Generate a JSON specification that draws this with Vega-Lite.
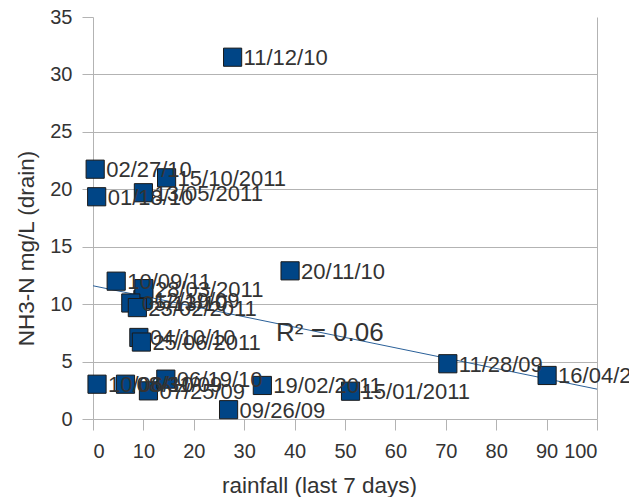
{
  "$schema": "https://vega.github.io/schema/vega-lite/v6.json",
  "width": 504,
  "height": 402,
  "autosize": "none",
  "padding": {"left": 93, "top": 17, "right": 32, "bottom": 78},
  "background": "white",
  "config": {
    "view": {"stroke": null},
    "font": "Liberation Sans"
  },
  "datasets": {
    "points": [
      {"rain": 27.7, "nh3": 31.5, "date": "11/12/10"},
      {"rain": 0.43, "nh3": 21.75, "date": "02/27/10"},
      {"rain": 14.6, "nh3": 21.0, "date": "15/10/2011"},
      {"rain": 0.73, "nh3": 19.35, "date": "01/18/10"},
      {"rain": 10.0, "nh3": 19.7, "date": "13/05/2011"},
      {"rain": 4.6, "nh3": 12.0, "date": "10/09/11"},
      {"rain": 9.9, "nh3": 10.4, "date": "12/19/09"},
      {"rain": 10.1, "nh3": 11.35, "date": "28/03/2011"},
      {"rain": 7.5, "nh3": 10.1, "date": "05/13/10"},
      {"rain": 8.8, "nh3": 9.7, "date": "23/02/2011"},
      {"rain": 39.1, "nh3": 12.9, "date": "20/11/10"},
      {"rain": 9.1, "nh3": 7.1, "date": "04/10/10"},
      {"rain": 9.6, "nh3": 6.7, "date": "25/06/2011"},
      {"rain": 0.8, "nh3": 3.03, "date": "10/06/10"},
      {"rain": 6.45, "nh3": 3.03, "date": "08/31/09"},
      {"rain": 11.0, "nh3": 2.45, "date": "07/25/09"},
      {"rain": 14.45, "nh3": 3.47, "date": "06/19/10"},
      {"rain": 26.9, "nh3": 0.81, "date": "09/26/09"},
      {"rain": 33.6, "nh3": 2.92, "date": "19/02/2011"},
      {"rain": 51.1, "nh3": 2.42, "date": "15/01/2011"},
      {"rain": 70.4, "nh3": 4.81, "date": "11/28/09"},
      {"rain": 90.1, "nh3": 3.79, "date": "16/04/2011"}
    ],
    "trend": [
      {"rain": 0, "nh3": 11.6},
      {"rain": 100, "nh3": 2.6}
    ],
    "r2": [
      {"rain": 47.0, "nh3": 6.8, "label": "R² = 0.06"}
    ]
  },
  "encoding": {
    "x": {
      "field": "rain", "type": "quantitative",
      "scale": {"domain": [0, 100], "nice": false, "zero": false},
      "axis": {
        "title": "rainfall (last 7 days)",
        "values": [0, 10, 20, 30, 40, 50, 60, 70, 80, 90, 100],
        "grid": true,
        "gridColor": "#b3b3b3",
        "gridOpacity": {"condition": {"test": "datum.value == 100", "value": 1}, "value": 0},
        "domainColor": "#b3b3b3",
        "tickColor": "#b3b3b3",
        "tickSize": 11,
        "labelFontSize": 20,
        "labelColor": "#333333",
        "labelPadding": 11,
        "labelFont": "Liberation Sans",
        "titleFont": "Liberation Sans",
        "titleFontSize": 22.5,
        "titleFontWeight": "normal",
        "titleColor": "#333333",
        "titleX": 226,
        "titleY": 73,
        "titleAlign": "center",
        "titleBaseline": "alphabetic"
      }
    },
    "y": {
      "field": "nh3", "type": "quantitative",
      "scale": {"domain": [0, 35], "nice": false, "zero": false},
      "axis": {
        "title": "NH3-N mg/L (drain)",
        "values": [0, 5, 10, 15, 20, 25, 30, 35],
        "grid": true,
        "gridColor": "#b3b3b3",
        "gridOpacity": {"condition": {"test": "datum.value >= 35 || datum.value <= 0", "value": 0}, "value": 1},
        "domainColor": "#b3b3b3",
        "tickColor": "#b3b3b3",
        "tickSize": 11,
        "labelFontSize": 20,
        "labelColor": "#333333",
        "labelPadding": 10,
        "labelFont": "Liberation Sans",
        "titleFont": "Liberation Sans",
        "titleFontSize": 22.5,
        "titleFontWeight": "normal",
        "titleColor": "#333333",
        "titleAngle": 270,
        "titleX": -60,
        "titleY": 231,
        "titleAlign": "center",
        "titleBaseline": "alphabetic"
      }
    }
  },
  "layer": [
    {
      "data": {"name": "trend"},
      "mark": {"type": "line", "color": "#2a6099", "strokeWidth": 1}
    },
    {
      "data": {"name": "points"},
      "mark": {"type": "point", "shape": "square", "filled": true, "size": 330, "fill": "#004586", "stroke": "#1a1a1a", "strokeWidth": 1, "opacity": 1}
    },
    {
      "data": {"name": "points"},
      "mark": {"type": "text", "align": "left", "baseline": "middle", "dx": 11, "dy": 1, "fontSize": 22, "font": "Liberation Sans", "color": "#333333"},
      "encoding": {"text": {"field": "date"}}
    },
    {
      "data": {"name": "r2"},
      "mark": {"type": "text", "align": "center", "baseline": "alphabetic", "fontSize": 26, "font": "Liberation Sans", "color": "#333333"},
      "encoding": {"text": {"field": "label"}}
    }
  ]
}
